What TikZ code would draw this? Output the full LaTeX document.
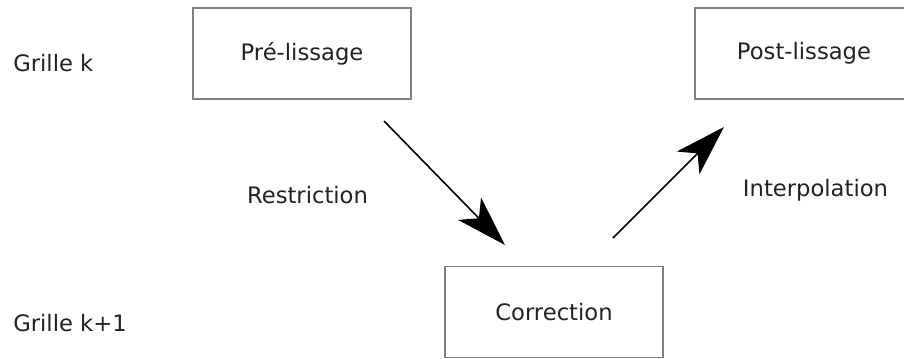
\documentclass[tikz,border=0pt]{standalone}
\usepackage{fontspec}
\setmainfont{DejaVu Sans}
\usetikzlibrary{arrows.meta}
\definecolor{boxgray}{RGB}{128,128,128}
\definecolor{txtgray}{RGB}{34,34,34}
\tikzset{
  stagebox/.style={draw=boxgray,line width=1.1pt,fill=white,minimum width=163.5pt,minimum height=68.25pt,inner sep=0pt,text=txtgray},
  gridlabel/.style={anchor=west,text=txtgray,inner sep=0pt},
  steplabel/.style={text=txtgray,inner sep=0pt},
  transarr/.style={-{Stealth[length=38pt,width=24pt,inset=10pt]},line width=1.2pt,black}
}

\begin{document}
\begin{tikzpicture}[x=0.75pt,y=-0.75pt,font=\fontsize{17}{20}\selectfont]
  \useasboundingbox (0,0) rectangle (904,358);
  \clip (0,0) rectangle (904,358);
  % grid levels
  \node[gridlabel] (gk) at (13,63) {Grille k};
  \node[gridlabel] (gk1) at (13,323) {Grille k+1};
  % smoothing and correction boxes
  \node[stagebox] (pre) at (302,53.5) {Pré-lissage};
  \node[stagebox] (post) at (804,53.5) {Post-lissage};
  \node[stagebox] (corr) at (554,312) {Correction};
  % transfers between grids
  \coordinate (rs) at (384,121); \coordinate (re) at (505,245);
  \coordinate (is) at (613,238); \coordinate (ie) at (724,127);
  \draw[transarr] (rs) -- (re);
  \draw[transarr] (is) -- (ie);
  \node[steplabel] (restr) at (307.5,195) {Restriction};
  \node[steplabel] (interp) at (815.5,190) {Interpolation};
\end{tikzpicture}
\end{document}
